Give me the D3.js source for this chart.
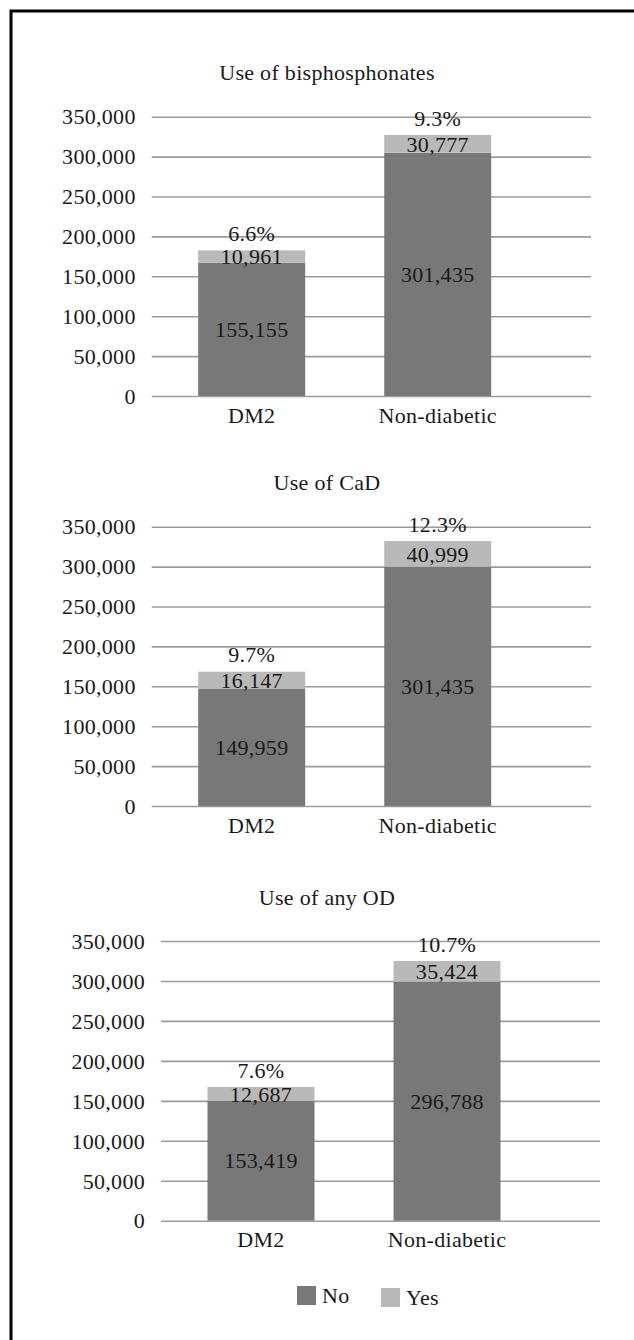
<!DOCTYPE html>
<html>
<head>
<meta charset="utf-8">
<script src="https://cdn.jsdelivr.net/npm/d3@7"></script>
<style>
  html, body { margin: 0; padding: 0; background: #fff; }
  svg text { font-family: 'Liberation Serif', 'Times New Roman', serif; fill: #1a1a1a; }
</style>
</head>
<body>
<div class="canvas"></div>
<script>
// chart data
const titles = ['Use of bisphosphonates', 'Use of CaD', 'Use of any OD']
const categories = ['DM2', 'Non-diabetic']
const series = ['No', 'Yes']
const yTicks = [0, 50000, 100000, 150000, 200000, 250000, 300000, 350000]

// printed labels
const noLabels = [[155155, 301435], [149959, 301435], [153419, 296788]]
const yesLabels = [[10961, 30777], [16147, 40999], [12687, 35424]]
const pctLabels = [['6.6%', '9.3%'], ['9.7%', '12.3%'], ['7.6%', '10.7%']]

// bar heights as drawn in the picture (they don't quite follow the labels)
const noHeights = [[167000, 304900], [146600, 299900], [150200, 299000]]
const yesHeights = [[15500, 22200], [21700, 32100], [17100, 26000]]

const dimensions = { width: 634, height: 1340 }
const colors = { No: '#787878', Yes: '#b9b9b9' }
const fontSize = 22

// plot area of each panel: y of the 350,000 line, y of 0, gridline left/right
const layout = [
  { top: 116.7, bottom: 396, left: 151.7, right: 591 },
  { top: 526.7, bottom: 806, left: 151.7, right: 591 },
  { top: 941, bottom: 1220.7, left: 161, right: 600 },
]

const svg = d3
  .select('.canvas')
  .append('svg')
  .attr('width', dimensions.width)
  .attr('height', dimensions.height)

// frame (runs off the right and bottom edges)
svg
  .append('rect')
  .attr('x', 11)
  .attr('y', 11)
  .attr('width', 800)
  .attr('height', 1500)
  .attr('fill', 'none')
  .attr('stroke', '#000')
  .attr('stroke-width', 3)

const fmt = d3.format(',')

titles.forEach((title, i) => {
  const box = layout[i]
  const graph = svg.append('g')

  const y = d3.scaleLinear().domain([0, 350000]).range([box.bottom, box.top])
  const x = d3
    .scaleBand()
    .domain(categories)
    .range([box.left + 46.5, box.left + 339.5])
    .paddingInner(0.425)

  // gridlines + tick labels
  const yAxis = d3
    .axisLeft(y)
    .tickValues(yTicks)
    .tickFormat(fmt)
    .tickSize(-(box.right - box.left))
    .tickPadding(16)

  const axisG = graph
    .append('g')
    .attr('transform', `translate(${box.left}, 0)`)
    .call(yAxis)
  axisG.select('.domain').remove()
  axisG
    .selectAll('.tick line')
    .attr('stroke', '#9c9c9c')
    .attr('stroke-width', 1.6)
  axisG
    .selectAll('.tick text')
    .attr('font-size', fontSize)
    .attr('letter-spacing', 0.3)
    .attr('fill', '#1a1a1a')
    .attr('dy', '0.33em')

  // title
  graph
    .append('text')
    .attr('x', 327)
    .attr('y', box.top - 44)
    .attr('dy', '0.35em')
    .attr('text-anchor', 'middle')
    .attr('font-size', fontSize)
    .attr('letter-spacing', 0.3)
    .text(title)

  const rows = categories.map((c, j) => ({
    cat: c,
    No: noHeights[i][j],
    Yes: yesHeights[i][j],
    noLabel: noLabels[i][j],
    yesLabel: yesLabels[i][j],
    pct: pctLabels[i][j],
  }))

  const stacked = d3.stack().keys(series)(rows)

  stacked.forEach((layer) => {
    graph
      .append('g')
      .selectAll('rect')
      .data(layer)
      .enter()
      .append('rect')
      .attr('x', (d) => x(d.data.cat))
      .attr('width', x.bandwidth())
      .attr('y', (d) => y(d[1]))
      .attr('height', (d) => y(d[0]) - y(d[1]))
      .attr('fill', colors[layer.key])
  })

  // segment labels
  stacked.forEach((layer) => {
    graph
      .append('g')
      .selectAll('text')
      .data(layer)
      .enter()
      .append('text')
      .attr('x', (d) => x(d.data.cat) + x.bandwidth() / 2)
      .attr('y', (d) => (y(d[0]) + y(d[1])) / 2)
      .attr('dy', '0.35em')
      .attr('text-anchor', 'middle')
      .attr('font-size', fontSize)
      .attr('letter-spacing', 0.3)
      .text((d) => fmt(layer.key === 'No' ? d.data.noLabel : d.data.yesLabel))
  })

  // percentage above each bar
  graph
    .append('g')
    .selectAll('text')
    .data(stacked[stacked.length - 1])
    .enter()
    .append('text')
    .attr('x', (d) => x(d.data.cat) + x.bandwidth() / 2)
    .attr('y', (d) => y(d[1]) - 17)
    .attr('dy', '0.35em')
    .attr('text-anchor', 'middle')
    .attr('font-size', fontSize)
    .attr('letter-spacing', 0.3)
    .text((d) => d.data.pct)

  // category labels
  graph
    .append('g')
    .selectAll('text')
    .data(categories)
    .enter()
    .append('text')
    .attr('x', (d) => x(d) + x.bandwidth() / 2)
    .attr('y', box.bottom + 19)
    .attr('dy', '0.35em')
    .attr('text-anchor', 'middle')
    .attr('font-size', fontSize)
    .attr('letter-spacing', 0.3)
    .text((d) => d)
})

// legend
const legendPos = [
  { x: 297, y: 1286 },
  { x: 381, y: 1288 },
]
const legend = svg
  .append('g')
  .selectAll('g')
  .data(series)
  .enter()
  .append('g')
  .attr('transform', (d, i) => `translate(${legendPos[i].x}, ${legendPos[i].y})`)

legend
  .append('rect')
  .attr('width', 19)
  .attr('height', 19)
  .attr('fill', (d) => colors[d])

legend
  .append('text')
  .attr('x', 25)
  .attr('y', 9.5)
  .attr('dy', '0.35em')
  .attr('font-size', fontSize)
  .attr('letter-spacing', 0.3)
  .text((d) => d)
</script>
</body>
</html>
